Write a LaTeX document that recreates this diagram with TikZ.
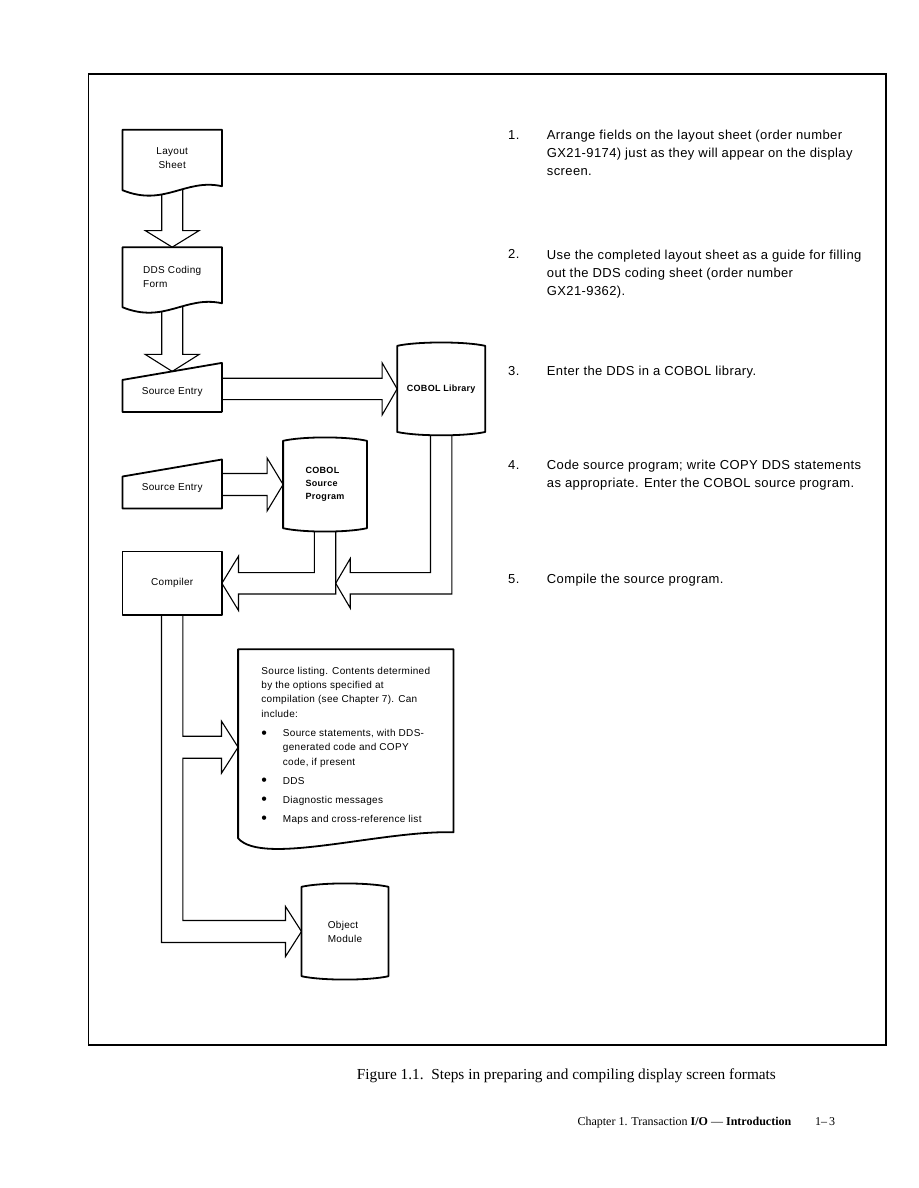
\documentclass[tikz,border=0pt]{standalone}
\usepackage{fontspec}
\setmainfont{Liberation Serif}
\newfontfamily\chartfont[LetterSpace=3]{Liberation Sans}
\usetikzlibrary{calc}
\pgfdeclarelayer{arrowlayer}
\pgfdeclarelayer{shapelayer}
\pgfsetlayers{arrowlayer,shapelayer,main}
\newcommand{\listbullet}{\makebox[21.5pt][l]{\raisebox{-1.8pt}{\fontsize{16}{16}\selectfont\textbullet}}}
\tikzset{
  boxnode/.style={rectangle, inner sep=0pt, minimum width=99pt, align=center,
                  font=\chartfont\fontsize{10}{14}\selectfont},
  docnode/.style={boxnode},
  entrynode/.style={boxnode, minimum height=40pt},
  storenode/.style={boxnode, font=\chartfont\bfseries\fontsize{9}{13.3}\selectfont},
  shapeline/.style={line width=1.8pt, fill=white, line join=round},
  blockarrow/.style={line width=1.1pt, line join=miter},
  framebox/.style={line width=1.4pt},
  stepnum/.style={anchor=base west, inner sep=0pt,
                  font=\chartfont\fontsize{13}{18}\selectfont},
  steptext/.style={stepnum, align=left},
  captiontext/.style={anchor=base west, inner sep=0pt, font=\fontsize{15.3}{18}\selectfont},
  footertext/.style={anchor=base west, inner sep=0pt, font=\fontsize{12}{14}\selectfont},
}

\begin{document}
\begin{tikzpicture}[x=1pt,y=-1pt]
  \useasboundingbox (0,0) rectangle (918,1188);
  \draw[framebox] (88.3,74) rectangle (886,1045);

  % chart symbols
  \node[docnode, minimum height=56pt] (layout) at (172.2,158) {Layout\\Sheet};
  \node[docnode, minimum height=55.7pt, align=left] (dds) at (172.2,275.2) {\rule{0pt}{10pt}DDS Coding\\Form};
  \node[entrynode] (src1) at (172.2,391.7) {Source Entry};
  \node[storenode, minimum width=87.7pt, minimum height=85.7pt] (lib) at (441.2,388.9) {COBOL Library};
  \node[entrynode] (src2) at (172.2,488.3) {Source Entry};
  \node[storenode, minimum width=83.4pt, minimum height=87pt, align=left] (srcprog) at (325,484.5) {COBOL\\Source\\Program};
  \node[boxnode, minimum height=63.3pt] (compiler) at (172.2,583.3) {Compiler};
  \node[docnode, minimum width=215pt, minimum height=182.7pt, align=left,
        font=\chartfont\fontsize{10}{14.4}\selectfont] (listing) at (345.8,740.7)
    {\rule{0pt}{17pt}Source listing. Contents determined\\
     by the options specified at\\
     compilation (see Chapter 7). Can\\
     include:\\[4.6pt]
     \listbullet Source statements, with DDS-\\
     \hspace*{21.5pt}generated code and COPY\\
     \hspace*{21.5pt}code, if present\\[4.6pt]
     \listbullet DDS\\[4.6pt]
     \listbullet Diagnostic messages\\[4.6pt]
     \listbullet Maps and cross-reference list};
  \node[boxnode, minimum width=86.6pt, minimum height=89pt, align=left] (objmod) at (345,931.5) {Object\\Module};

  \begin{pgfonlayer}{shapelayer}
    \draw[shapeline] ($(layout.south west)+(0,4)$) -- (layout.north west) -- (layout.north east)
      -- (layout.south east) .. controls +(-37,-8) and +(42,17) .. ($(layout.south west)+(0,4)$) -- cycle;
    \draw[shapeline] ($(dds.south west)+(0,4)$) -- (dds.north west) -- (dds.north east)
      -- (dds.south east) .. controls +(-37,-8) and +(42,17) .. ($(dds.south west)+(0,4)$) -- cycle;
    \draw[shapeline] (src1.south west) -- ($(src1.south west)+(0,-32)$) -- ($(src1.south east)+(0,-49)$) -- (src1.south east) -- cycle;
    \draw[shapeline] (src2.south west) -- ($(src2.south west)+(0,-32)$) -- ($(src2.south east)+(0,-49)$) -- (src2.south east) -- cycle;
    \draw[shapeline] (lib.south west) -- (lib.north west) .. controls +(20,-4.5) and +(-20,-4.5) .. (lib.north east)
      -- (lib.south east) .. controls +(-20,4.5) and +(20,4.5) .. (lib.south west) -- cycle;
    \draw[shapeline] (srcprog.south west) -- (srcprog.north west) .. controls +(20,-4.5) and +(-20,-4.5) .. (srcprog.north east)
      -- (srcprog.south east) .. controls +(-20,4.5) and +(20,4.5) .. (srcprog.south west) -- cycle;
    \draw[shapeline] (objmod.south west) -- (objmod.north west) .. controls +(20,-4.5) and +(-20,-4.5) .. (objmod.north east)
      -- (objmod.south east) .. controls +(-20,4.5) and +(20,4.5) .. (objmod.south west) -- cycle;
    \draw[shapeline] (compiler.north west) rectangle (compiler.south east);
    \draw[shapeline] ($(listing.south west)+(0,6)$) -- (listing.north west) -- (listing.north east)
      -- (listing.south east) .. controls +(-73,-2) and +(24,28) .. ($(listing.south west)+(0,6)$) -- cycle;
  \end{pgfonlayer}

  % block arrows
  \coordinate (src1in) at ($(src1.south)+(0,-40.5)$);
  \coordinate (libjoin) at ($(srcprog.center |- compiler.east)+(10.7,0)$);
  \coordinate (lstin) at ($(listing.west)+(0,6.5)$);
  \begin{pgfonlayer}{arrowlayer}
    \draw[blockarrow] ($(layout.center)+(-10.5,0)$) |- ($(dds.north)+(-27,-16.6)$) -- (dds.north)
      -- ++(27,-16.6) -- ++(-16.5,0) -- ($(layout.center)+(10.5,0)$);
    \draw[blockarrow] ($(dds.center)+(-10.5,0)$) |- ($(src1in)+(-27,-17)$) -- (src1in)
      -- ++(27,-17) -- ++(-16.5,0) -- ($(dds.center)+(10.5,0)$);
    \draw[blockarrow] ($(src1.center |- lib.west)+(0,-10.7)$) -- ($(lib.west)+(-15,-10.7)$) -- ++(0,-15.3)
      -- (lib.west) -- ++(-15,26) -- ++(0,-15.3) -- ($(src1.center |- lib.west)+(0,10.7)$);
    \draw[blockarrow] ($(src2.center |- srcprog.west)+(0,-11)$) -- ($(srcprog.west)+(-16,-11)$) -- ++(0,-15.5)
      -- (srcprog.west) -- ++(-16,26.5) -- ++(0,-15.5) -- ($(src2.center |- srcprog.west)+(0,11)$);
    \draw[blockarrow] ($(srcprog.center)+(-10.7,0)$) |- ($(compiler.east)+(16.6,-10.7)$) -- ++(0,-16.5)
      -- (compiler.east) -- ++(16.6,27.2) -- ++(0,-16.5) -| ($(srcprog.center)+(10.7,0)$);
    \draw[blockarrow] ($(lib.center)+(-10.7,0)$) |- ($(libjoin)+(14.5,-10.7)$) -- ++(0,-14)
      -- (libjoin) -- ++(14.5,24.7) -- ++(0,-14) -| ($(lib.center)+(10.7,0)$);
    \draw[blockarrow] ($(compiler.center)+(10.7,0)$) |- ($(lstin)+(-16.6,-11)$) -- ++(0,-15)
      -- (lstin) -- ++(-16.6,26) -- ++(0,-15) -- ($(compiler.center |- lstin)+(10.7,11)$)
      -- ($(compiler.center |- objmod.west)+(10.7,-11)$) -- ($(objmod.west)+(-16,-11)$) -- ++(0,-14)
      -- (objmod.west) -- ++(-16,25) -- ++(0,-14) -| ($(compiler.center)+(-10.7,0)$);
  \end{pgfonlayer}

  % steps (multi-line texts sit on the baseline of their last line)
  \node[stepnum] (num1) at (508,139.5) {1.};
  \node[steptext] (step1) at (546.7,175.5) {Arrange fields on the layout sheet (order number\\GX21-9174) just as they will appear on the display\\screen.};
  \node[stepnum] (num2) at (508,258.5) {2.};
  \node[steptext] (step2) at (546.7,295) {Use the completed layout sheet as a guide for filling\\out the DDS coding sheet (order number\\GX21-9362).};
  \node[stepnum] (num3) at (508,375.2) {3.};
  \node[steptext] (step3) at (546.7,375.2) {Enter the DDS in a COBOL library.};
  \node[stepnum] (num4) at (508,469.5) {4.};
  \node[steptext] (step4) at (546.7,487) {Code source program; write COPY DDS statements\\as appropriate. Enter the COBOL source program.};
  \node[stepnum] (num5) at (508,583.8) {5.};
  \node[steptext] (step5) at (546.7,583.8) {Compile the source program.};

  \node[captiontext] (caption) at (356.7,1079.5) {Figure 1.1.\ \ Steps in preparing and compiling display screen formats};
  \node[footertext] (footer) at (577.3,1125) {Chapter 1. Transaction \textbf{I/O} --- \textbf{Introduction}};
  \node[footertext] (pageno) at (815,1125) {1--\,3};
\end{tikzpicture}
\end{document}
